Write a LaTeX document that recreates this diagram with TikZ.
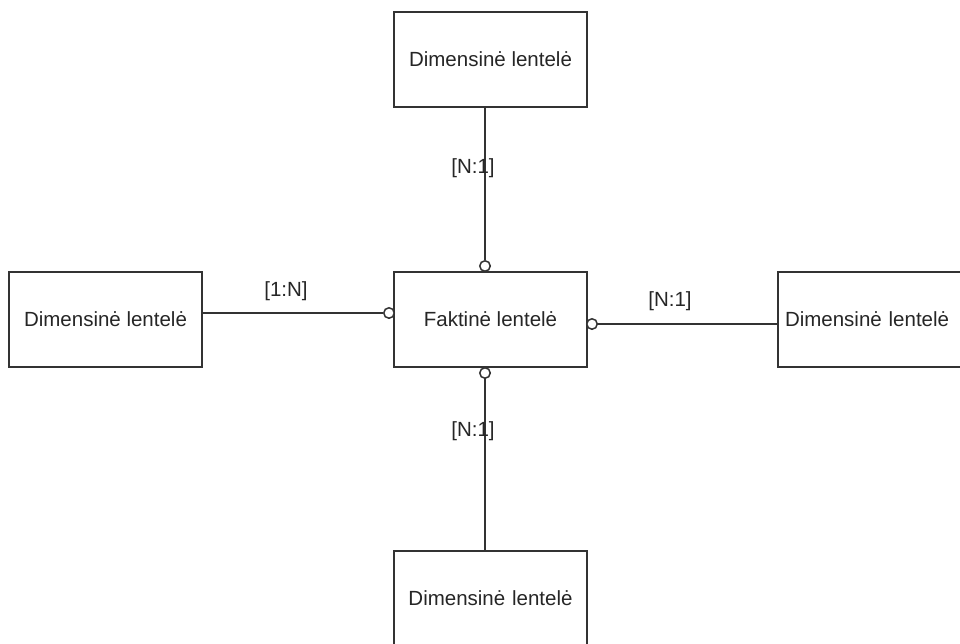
\documentclass[tikz,border=0pt]{standalone}
\usepackage{fontspec}
\setmainfont{Liberation Sans}
\begin{document}
\begin{tikzpicture}[x=1pt,y=-1pt,
  every node/.style={font=\fontsize{20.5}{24}\selectfont, text=black!85},
  table/.style={draw=black!80, line width=1.8pt, fill=white,
    minimum width=193pt, minimum height=95pt, inner sep=0pt},
  link/.style={draw=black!80, line width=1.8pt},
  joint/.style={circle, draw=black!80, line width=1.5pt, fill=white,
    minimum size=10.5pt, inner sep=0pt},
  card/.style={inner sep=0pt}]
\useasboundingbox (0,0) rectangle (960,643);
\clip (0,0) rectangle (960,643);

% tables
\node[table] (fact)   at (490.5,319.5) {Faktinė lentelė};
\node[table] (top)    at (490.5,59.5)  {Dimensinė lentelė};
\node[table] (left)   at (105.5,319.5) {Dimensinė lentelė};
\node[table, text width=179pt, align=left] (right) at (874.5,319.5) {Dimensinė lentelė};
\node[table, text width=193pt, align=center] (bottom) at (490.5,598.5) {\raisebox{1pt}{Dimensinė lentelė}};

% connection points on the fact table
\node[joint] (jt) at (485,266) {};
\node[joint] (jl) at (389,313) {};
\node[joint] (jr) at (592,324) {};
\node[joint] (jb) at (485,373) {};

% connectors
\draw[link] (top.south -| jt) -- (jt);
\draw[link] (left.east |- jl) -- (jl);
\draw[link] (jr) -- (right.west |- jr);
\draw[link] (jb) -- (bottom.north -| jb);

% cardinalities
\node[card] (ct) at (473,168) {[N:1]};
\node[card] (cl) at (286,291) {[1:N]};
\node[card] (cr) at (670,301) {[N:1]};
\node[card] (cb) at (473,431) {[N:1]};
\end{tikzpicture}
\end{document}
